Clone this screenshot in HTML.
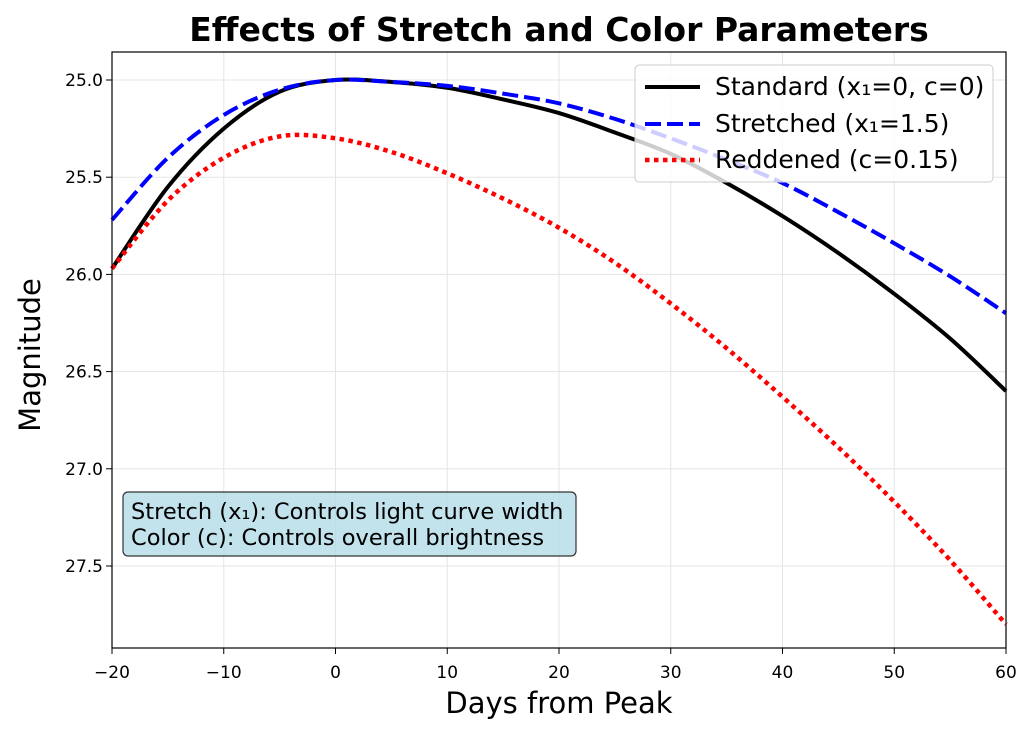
<!DOCTYPE html>
<html><head><meta charset="utf-8"><style>
body{margin:0;background:#fff;}
svg text{font-family:"DejaVu Sans","Liberation Sans",sans-serif;}
</style></head><body>
<svg id="chart" width="1034" height="735">
<text x="559" y="41" text-anchor="middle" font-size="33" font-weight="bold">Effects of Stretch and Color Parameters</text>
<g id="grid"></g>
<g id="series"></g>
<rect x="112" y="52" width="894" height="596" fill="none" stroke="#000" stroke-width="1.2"/>
<g id="ticks"></g>
<text x="559" y="713" text-anchor="middle" font-size="29">Days from Peak</text>
<text transform="translate(40,355) rotate(-90)" text-anchor="middle" font-size="29">Magnitude</text>
<g>
<rect x="635" y="65" width="358" height="117" rx="4" fill="#fff" fill-opacity="0.8" stroke="#ccc"/>
<line x1="645" y1="87" x2="700" y2="87" stroke="#000" stroke-width="4"/>
<text x="715" y="95" font-size="25">Standard (x₁=0, c=0)</text>
<line x1="645" y1="124" x2="700" y2="124" stroke="#00f" stroke-width="4" stroke-dasharray="16,6"/>
<text x="715" y="132" font-size="25">Stretched (x₁=1.5)</text>
<line x1="645" y1="160" x2="700" y2="160" stroke="#f00" stroke-width="4.5" stroke-dasharray="4.5,4.5"/>
<text x="715" y="168" font-size="25">Reddened (c=0.15)</text>
</g>
<g>
<rect x="123" y="492" width="453" height="64" rx="5" fill="#add8e6" fill-opacity="0.75" stroke="#333" stroke-width="1.2"/>
<text x="131" y="519" font-size="22.5">Stretch (x₁): Controls light curve width</text>
<text x="131" y="545" font-size="22.5">Color (c): Controls overall brightness</text>
</g>
</svg>
<script>
const days=[-20,-15,-10,-5,0,5,10,15,20,25,30,35,40,45,50,55,60];
const standardMag=[25.97,25.55,25.25,25.06,25.0,25.01,25.04,25.1,25.17,25.27,25.38,25.53,25.70,25.89,26.1,26.33,26.6];
const stretchedMag=[25.72,25.4,25.18,25.05,25.0,25.01,25.03,25.07,25.12,25.2,25.3,25.41,25.53,25.68,25.84,26.01,26.2];
const reddenedMag=[25.97,25.62,25.4,25.29,25.3,25.37,25.48,25.61,25.76,25.94,26.15,26.38,26.63,26.89,27.17,27.47,27.8];
const xTicks=[-20,-10,0,10,20,30,40,50,60];
const yTicks=[25.0,25.5,26.0,26.5,27.0,27.5];
const NS="http://www.w3.org/2000/svg";
const X=v=>112+(v+20)/80*894;
const Y=v=>80+(v-25)/0.5*97.2;
function mk(tag,attrs,parent){const e=document.createElementNS(NS,tag);for(const k in attrs)e.setAttribute(k,attrs[k]);document.getElementById(parent).appendChild(e);return e;}
xTicks.forEach(t=>{
 const g=mk('line',{x1:X(t),x2:X(t),y1:52,y2:648,stroke:'#e5e5e5'},'grid');
 
 
 mk('line',{x1:X(t),x2:X(t),y1:648,y2:654,stroke:'#000'},'ticks');
 const l=mk('text',{x:X(t),y:678,'text-anchor':'middle','font-size':17},'ticks');
 l.textContent=t<0?'\u2212'+Math.abs(t):t;
 
 
});
yTicks.forEach(t=>{
 const g=mk('line',{x1:112,x2:1006,y1:Y(t),y2:Y(t),stroke:'#e5e5e5'},'grid');
 
 
 mk('line',{x1:106,x2:112,y1:Y(t),y2:Y(t),stroke:'#000'},'ticks');
 const l=mk('text',{x:103,y:Y(t)+6,'text-anchor':'end','font-size':17},'ticks');
 l.textContent=t.toFixed(1);
 
 
});
function path(vals){
 const p=days.map((d,i)=>[X(d),Y(vals[i])]);
 let s='M'+p[0][0]+','+p[0][1];
 for(let i=0;i<p.length-1;i++){
  const p0=p[Math.max(0,i-1)],p1=p[i],p2=p[i+1],p3=p[Math.min(p.length-1,i+2)];
  s+=' C'+(p1[0]+(p2[0]-p0[0])/6)+','+(p1[1]+(p2[1]-p0[1])/6)+' '+(p2[0]-(p3[0]-p1[0])/6)+','+(p2[1]-(p3[1]-p1[1])/6)+' '+p2[0]+','+p2[1];
 }
 return s;
}
const s1=mk('path',{d:path(standardMag),fill:'none',stroke:'#000','stroke-width':4},'series');


const s2=mk('path',{d:path(stretchedMag),fill:'none',stroke:'#00f','stroke-width':4,'stroke-dasharray':'16,6'},'series');


const s3=mk('path',{d:path(reddenedMag),fill:'none',stroke:'#f00','stroke-width':4.5,'stroke-dasharray':'4.5,4.5'},'series');


</script>
</body></html>
